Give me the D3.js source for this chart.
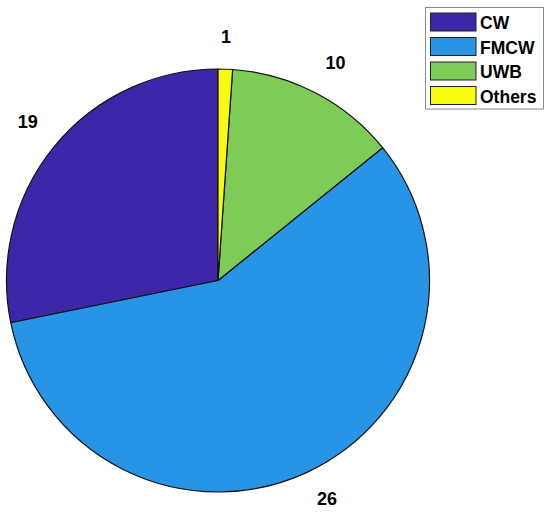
<!DOCTYPE html>
<html>
<head>
<meta charset="utf-8">
<script src="https://cdn.jsdelivr.net/npm/d3@7"></script>
<style>
  body { margin: 0; background: #fff; }
  text { font-family: "Liberation Sans", Arial, sans-serif; font-weight: bold; }
</style>
</head>
<body>
<svg width="550" height="514"></svg>
<script>
// slice sizes as drawn (percent of circle), and the labels printed next to them
var categories = ["CW", "FMCW", "UWB", "Others"];
var shares = [28.2, 57.6, 13.1, 1.1];
var labels = ["19", "26", "10", "1"];
var colors = ["#3e26a8", "#2894e6", "#7ecb58", "#f9fb0e"];

var svg = d3.select("svg");
var cx = 218, cy = 280.5, r = 211.5;

var data = categories.map(function (c, i) {
    return { name: c, value: shares[i], label: labels[i], color: colors[i] };
});

// MATLAB pie: starts at 12 o'clock, goes counterclockwise
var pie = d3.pie().sort(null).value(function (d) { return d.value; })
    .startAngle(0).endAngle(-2 * Math.PI);
var arc = d3.arc().innerRadius(0).outerRadius(r);

var g = svg.append("g").attr("transform", "translate(" + cx + "," + cy + ")");
var arcs = pie(data);

g.selectAll("path.slice")
    .data(arcs)
    .enter().append("path")
    .attr("class", "slice")
    .attr("d", arc)
    .attr("fill", function (d) { return d.data.color; })
    .attr("stroke", "#111")
    .attr("stroke-width", 1.2)
    .attr("stroke-linejoin", "round");

// labels at 1.1 r, aligned away from the pie
g.selectAll("text.lbl")
    .data(arcs)
    .enter().append("text")
    .attr("class", "lbl")
    .attr("font-size", 18)
    .attr("fill", "#000")
    .each(function (d) {
        var a = (d.startAngle + d.endAngle) / 2;
        var s = Math.sin(a), c = -Math.cos(a);
        var x = s * r * 1.1, y = c * r * 1.1;
        var t = d3.select(this);
        var anchor = Math.abs(s) < 0.1 ? "middle" : (s > 0 ? "start" : "end");
        t.attr("text-anchor", anchor)
            .attr("x", x)
            .attr("y", c < 0 ? y - 5 : y + 14)
            .text(d.data.label);
    });

// legend
var lg = svg.append("g").attr("transform", "translate(425.5,7.5)");
lg.append("rect")
    .attr("width", 118).attr("height", 101.5)
    .attr("fill", "#fff").attr("stroke", "#8a8a8a").attr("stroke-width", 1);

var item = lg.selectAll("g.item")
    .data(data)
    .enter().append("g")
    .attr("class", "item")
    .attr("transform", function (d, i) { return "translate(5," + (5.5 + i * 24.5) + ")"; });

item.append("rect")
    .attr("width", 45.5).attr("height", 18)
    .attr("fill", function (d) { return d.color; })
    .attr("stroke", "#222").attr("stroke-width", 1);

item.append("text")
    .attr("x", 49.5).attr("y", 16)
    .attr("font-size", 17.5)
    .attr("fill", "#000")
    .text(function (d) { return d.name; });
</script>
</body>
</html>
